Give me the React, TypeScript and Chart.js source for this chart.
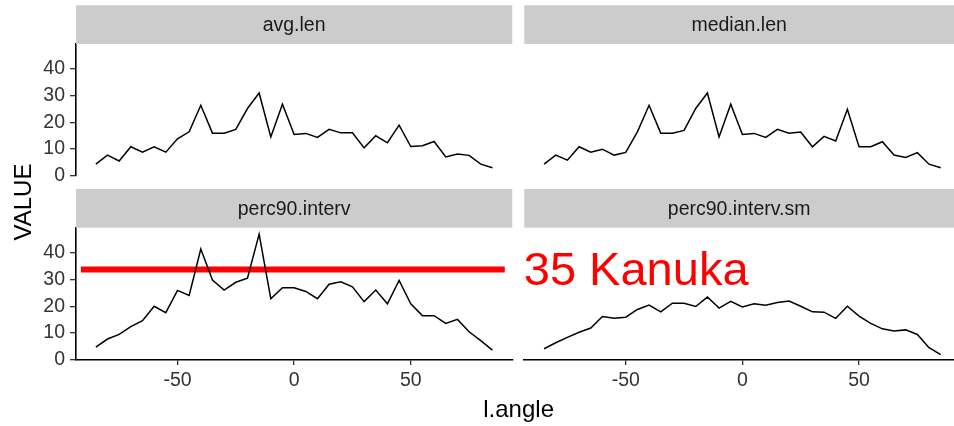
import { useEffect, useRef } from 'react';
import { Chart, registerables } from 'chart.js';

Chart.register(...registerables);

// ---- data ----
const angles = [-85, -80, -75, -70, -65, -60, -55, -50, -45, -40, -35, -30, -25, -20, -15, -10, -5, 0, 5, 10, 15, 20, 25, 30, 35, 40, 45, 50, 55, 60, 65, 70, 75, 80, 85];
const avgLen = [4.3, 7.7, 5.5, 10.8, 8.8, 10.8, 8.8, 13.8, 16.4, 26.3, 15.9, 15.9, 17.3, 25.1, 30.9, 14.5, 26.7, 15.4, 15.8, 14.3, 17.3, 16.0, 16.0, 10.4, 14.9, 12.3, 18.9, 10.9, 11.2, 12.8, 7.0, 8.1, 7.6, 4.3, 3.0];
const medianLen = [4.3, 7.7, 5.8, 10.8, 8.8, 9.9, 7.7, 8.7, 16.4, 26.3, 15.9, 15.9, 16.9, 25.1, 30.9, 14.5, 26.7, 15.4, 15.8, 14.3, 17.3, 15.9, 16.3, 10.8, 14.7, 13.0, 24.8, 10.8, 10.8, 12.7, 7.7, 6.8, 8.6, 4.3, 3.0];
const perc90Interv = [4.8, 7.8, 9.5, 12.4, 14.6, 20.0, 17.6, 25.9, 24.0, 41.3, 29.7, 26.0, 28.9, 30.4, 46.8, 22.8, 26.9, 26.9, 25.5, 22.8, 28.2, 29.1, 27.2, 21.7, 26.0, 20.9, 29.6, 20.9, 16.5, 16.5, 13.6, 15.1, 10.5, 7.2, 3.7];
const perc90IntervSm = [4.2, 6.4, 8.4, 10.3, 11.9, 16.2, 15.5, 15.9, 18.8, 20.4, 17.9, 21.1, 21.1, 19.9, 23.4, 19.3, 21.8, 19.7, 20.9, 20.4, 21.4, 21.9, 20.0, 17.9, 17.8, 15.5, 20.0, 16.3, 13.6, 11.6, 10.8, 11.2, 9.5, 4.6, 2.0];
const redLineX = [-91.4, 90.3];
const redLineY = [33.7, 33.7];
const redLabel = '35 Kanuka';
const panelTitles = ['avg.len', 'median.len', 'perc90.interv', 'perc90.interv.sm'];
const xTicks = [-50, 0, 50];
const yTicks = [0, 10, 20, 30, 40];
const xTitle = 'l.angle';
const yTitle = 'VALUE';

const FONT = "'Liberation Sans', Arial, Helvetica, sans-serif";
const TICK_SIZE = 19.5;

const pts = (xs: number[], ys: number[]) => xs.map((x, i) => ({ x, y: ys[i] }));

function xAxis(weight: number, min: number, max: number) {
  return {
    type: 'linear' as const,
    axis: 'x' as const,
    position: 'bottom' as const,
    stack: 'xs',
    stackWeight: weight,
    min,
    max,
    afterBuildTicks: (s: any) => { s.ticks = xTicks.map((v) => ({ value: v })); },
    afterFit: (s: any) => { s.height = 66; },
    ticks: { font: { family: FONT, size: TICK_SIZE }, color: '#333', padding: 4, autoSkip: false, maxRotation: 0, includeBounds: false },
    grid: { display: true, drawOnChartArea: false, drawTicks: true, tickLength: 5, color: '#333', lineWidth: 1.3 },
    border: { display: true, color: '#000', width: 1.6 },
  };
}

function yAxis(weight: number) {
  return {
    type: 'linear' as const,
    axis: 'y' as const,
    position: 'left' as const,
    stack: 'ys',
    stackWeight: weight,
    min: 0,
    max: 49.2,
    afterBuildTicks: (s: any) => { s.ticks = yTicks.map((v) => ({ value: v })); },
    afterFit: (s: any) => { s.width = 76; },
    ticks: { font: { family: FONT, size: TICK_SIZE }, color: '#333', padding: 5, autoSkip: false },
    grid: { display: true, drawOnChartArea: false, drawTicks: true, tickLength: 6, color: '#333', lineWidth: 1.3 },
    border: { display: true, color: '#000', width: 1.6 },
  };
}

function spacer(axis: 'x' | 'y', weight: number) {
  return {
    type: 'linear' as const,
    axis,
    position: axis === 'x' ? ('bottom' as const) : ('left' as const),
    stack: axis === 'x' ? 'xs' : 'ys',
    stackWeight: weight,
    min: 0,
    max: 1,
    afterFit: (s: any) => { if (axis === 'x') s.height = 66; else s.width = 76; },
    ticks: { display: false },
    grid: { display: false },
    border: { display: false },
  };
}

const facetPlugin = {
  id: 'facetDecor',
  afterDraw(chart: any) {
    const { ctx, scales } = chart;
    const stripH = 38.7;
    const panels = [
      [scales.xL, scales.yT],
      [scales.xR, scales.yT],
      [scales.xL, scales.yB],
      [scales.xR, scales.yB],
    ];
    ctx.save();
    panels.forEach(([xs, ys], i) => {
      ctx.fillStyle = '#cccccc';
      ctx.fillRect(xs.left, ys.top - stripH, xs.right - xs.left, stripH);
      ctx.fillStyle = '#1a1a1a';
      ctx.font = `${TICK_SIZE}px ${FONT}`;
      ctx.textAlign = 'center';
      ctx.textBaseline = 'middle';
      const cx = (xs.left + Math.min(xs.right, xs.left + 437)) / 2;
      ctx.fillText(panelTitles[i], cx, ys.top - stripH / 2 + 1);
    });
    // axis titles
    ctx.fillStyle = '#000';
    ctx.font = `24px ${FONT}`;
    ctx.textAlign = 'center';
    ctx.textBaseline = 'middle';
    ctx.fillText(xTitle, (scales.xL.left + scales.xR.left + 437) / 2, 410);
    ctx.save();
    ctx.translate(24, (scales.yT.top + scales.yB.bottom) / 2);
    ctx.rotate(-Math.PI / 2);
    ctx.fillText(yTitle, 0, 0);
    ctx.restore();
    // red annotation label
    const lx = scales.xL.getPixelForValue(redLineX[1]);
    const ly = scales.yB.getPixelForValue(redLineY[1]);
    ctx.fillStyle = '#ff0000';
    ctx.font = `47px ${FONT}`;
    ctx.textAlign = 'left';
    ctx.textBaseline = 'alphabetic';
    ctx.fillText(redLabel, lx + 19, ly + 16);
    ctx.restore();
  },
};

const lineStyle = { borderColor: '#000', borderWidth: 1.5, pointRadius: 0, tension: 0, fill: false };

export default function App() {
  const ref = useRef<HTMLCanvasElement>(null);
  useEffect(() => {
    document.body.style.margin = '0';
    const canvas = ref.current!;
    const chart = new Chart(canvas, {
      type: 'line',
      data: {
        datasets: [
          { ...lineStyle, data: pts(angles, avgLen), xAxisID: 'xL', yAxisID: 'yT' },
          { ...lineStyle, data: pts(angles, medianLen), xAxisID: 'xR', yAxisID: 'yT' },
          { ...lineStyle, data: pts(angles, perc90Interv), xAxisID: 'xL', yAxisID: 'yB' },
          { ...lineStyle, data: pts(angles, perc90IntervSm), xAxisID: 'xR', yAxisID: 'yB' },
          { data: pts(redLineX, redLineY), xAxisID: 'xL', yAxisID: 'yB', borderColor: '#ff0000', borderWidth: 6, borderCapStyle: 'butt', pointRadius: 0, fill: false, clip: false },
        ] as any,
      },
      options: {
        responsive: false,
        animation: false,
        events: [],
        layout: { padding: { top: 44, left: 0, right: 0, bottom: 0 } },
        plugins: { legend: { display: false }, tooltip: { enabled: false }, title: { display: false } },
        scales: {
          xL: xAxis(436.2, -93.5, 93.5),
          xGap: spacer('x', 12),
          xR: xAxis(429.7, -93.5, 90.7),
          yB: yAxis(132.3),
          yGap: spacer('y', 52),
          yT: yAxis(131.7),
        } as any,
      },
      plugins: [facetPlugin],
    });
    return () => chart.destroy();
  }, []);
  return (
    <div style={{ width: 954, height: 426, background: '#fff', overflow: 'hidden' }}>
      <canvas ref={ref} width={954} height={426} style={{ display: 'block', width: 954, height: 426 }} />
    </div>
  );
}
